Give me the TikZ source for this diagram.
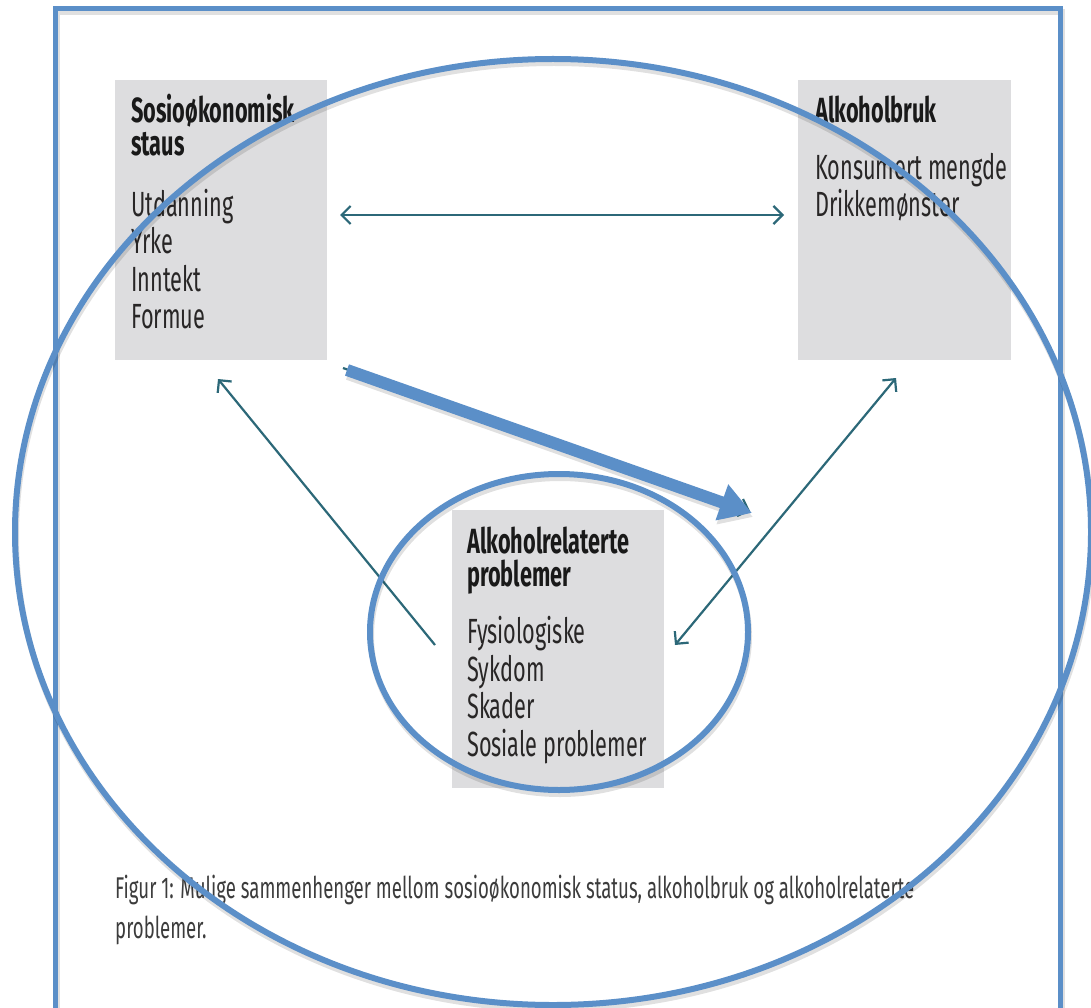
\documentclass[tikz,border=0pt]{standalone}
\usepackage{fontspec}
\setmainfont{Fira Sans}[FakeStretch=0.62]
\usetikzlibrary{arrows.meta,calc}
\definecolor{rblue}{RGB}{91,143,200}
\definecolor{teal}{RGB}{44,104,120}
\definecolor{boxgray}{RGB}{221,221,223}
\definecolor{txtcol}{RGB}{40,38,38}
\definecolor{capcol}{RGB}{60,60,60}
\tikzset{
  gbox/.style={fill=boxgray, draw=none, anchor=north west, inner sep=0pt},
  txt/.style={anchor=base west, inner sep=0pt, text=txtcol, font=\fontsize{35pt}{37pt}\selectfont},
  head/.style={txt, font=\fontsize{35pt}{37pt}\selectfont\bfseries, text=black!90},
  captxt/.style={anchor=base west, inner sep=0pt, text=capcol, font=\fontsize{30pt}{40pt}\selectfont},
  thinarrow/.style={draw=teal, line width=2.2pt},
  tip/.tip={Straight Barb[length=9pt,width=18pt,line width=2.2pt]},
  blueline/.style={draw=rblue, line width=6pt},
  shadowline/.style={draw=black, opacity=0.12, line width=6pt}
}
\begin{document}
\begin{tikzpicture}[x=1pt,y=-1pt]
\useasboundingbox (0,0) rectangle (1091,1008);
\clip (0,0) rectangle (1091,1008);
\fill[white] (0,0) rectangle (1091,1008);

% gray boxes
\node[gbox, minimum width=212pt, minimum height=280pt] (ses) at (115,80) {};
\node[gbox, minimum width=213pt, minimum height=280pt] (alk) at (798,80) {};
\node[gbox, minimum width=212pt, minimum height=278pt] (prob) at (452,510) {};

% box texts
\node[head] (s1) at (131,123) {Sosioøkonomisk};
\node[head] (s2) at (131,156) {staus};
\node[txt] (s3) at (131,217) {Utdanning};
\node[txt] (s4) at (131,254) {Yrke};
\node[txt] (s5) at (131,291) {Inntekt};
\node[txt] (s6) at (131,328) {Formue};

\node[head] (k1) at (815,123) {Alkoholbruk};
\node[txt] (k2) at (815,180) {Konsumert mengde};
\node[txt] (k3) at (815,217) {Drikkemønster};

\node[head] (p1) at (467,553) {Alkoholrelaterte};
\node[head] (p2) at (467,586) {problemer};
\node[txt] (p3) at (467,643) {Fysiologiske};
\node[txt] (p4) at (467,681) {Sykdom};
\node[txt] (p5) at (467,718) {Skader};
\node[txt] (p6) at (467,756) {Sosiale problemer};

% caption
\node[captxt] (c1) at (115,898) {Figur 1: Mulige sammenhenger mellom sosioøkonomisk status, alkoholbruk og alkoholrelaterte};
\node[captxt] (c2) at (115,938) {problemer.};

% connector end points
\coordinate (a1) at (340,215);
\coordinate (a2) at (784,215);
\coordinate (b1) at (435,645);
\coordinate (b2) at (218,379);
\coordinate (c1e) at (896,378);
\coordinate (c2e) at (675,645);
\coordinate (d1) at (343,368);
\coordinate (d2) at (750,511);
\coordinate (e1) at (347,370);
\coordinate (e2) at (752,513);

% thin teal connectors
\draw[thinarrow, {tip}-{tip}] (a1) -- (a2);
\draw[thinarrow, -{tip}] (b1) -- (b2);
\draw[thinarrow, {tip}-{tip}] (c1e) -- (c2e);
\draw[thinarrow, -{tip}] (d1) -- (d2);

% outer frame
\draw[shadowline] (57,12) rectangle (1062,1030);
\draw[blueline, line width=5pt] (55,9) rectangle (1060,1030);

% ellipses with soft shadow
\draw[shadowline] (554,536) ellipse [x radius=538, y radius=473];
\draw[blueline] (553,532) ellipse [x radius=538, y radius=473];
\draw[shadowline] (560,636) ellipse [x radius=189, y radius=158];
\draw[blueline] (559,632) ellipse [x radius=189, y radius=158];

% thick blue arrow
\draw[shadowline, line width=12pt, -{Triangle[length=32pt,width=36pt]}] ($(e1)+(1,4)$) -- ($(e2)+(1,4)$);
\draw[draw=rblue, fill=rblue, line width=12pt, -{Triangle[length=32pt,width=36pt]}] (e1) -- (e2);
\end{tikzpicture}
\end{document}
